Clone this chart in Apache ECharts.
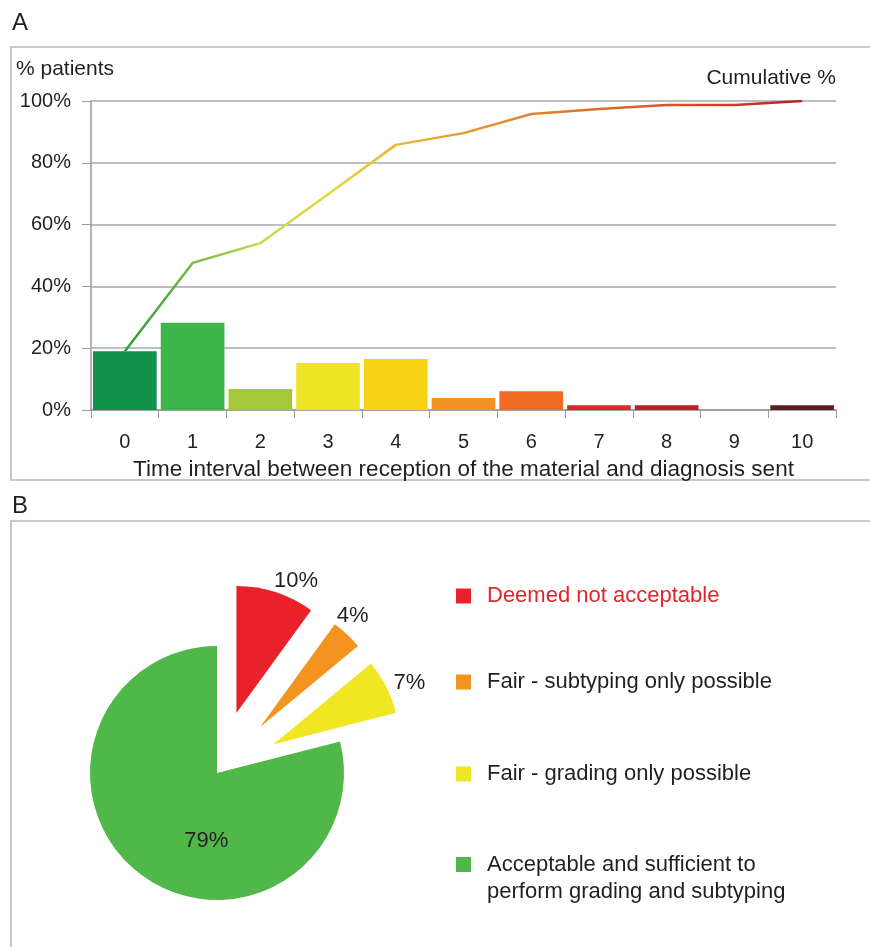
<!DOCTYPE html>
<html>
<head>
<meta charset="utf-8">
<script src="https://cdn.jsdelivr.net/npm/echarts@6/dist/echarts.min.js"></script>
<style>
  html, body { margin: 0; padding: 0; background: #fff; }
  #chart { width: 870px; height: 947px; }
</style>
</head>
<body>
<div id="chart"></div>
<script>
// panel A data
const days = ['0', '1', '2', '3', '4', '5', '6', '7', '8', '9', '10']
const patientPct = [19, 28.2, 6.8, 15.2, 16.5, 3.9, 6.1, 1.5, 1.5, 0, 1.5]
const cumulativePct = [19, 47.6, 54, 69.8, 85.8, 89.6, 95.8, 97.4, 98.7, 98.7, 100]
const yTicks = [0, 20, 40, 60, 80, 100]

// panel B data
const qualityNames = [
  'Deemed not acceptable',
  'Fair - subtyping only possible',
  'Fair - grading only possible',
  'Acceptable and sufficient to\nperform grading and subtyping'
]
const qualityPct = [10, 4, 7, 79]

// styles
const barColors = ['#11924a', '#3db54a', '#a3c93b', '#efe526', '#f5d312', '#f39224', '#ee6a25', '#e0262b', '#b72127', '#999', '#5b1f20']
const pieColors = ['#e8212a', '#f39420', '#f0e624', '#4fb848']
const labelOffsets = [[39, -69], [47, -63], [77, -31], [30, 15]]
const legendTops = [584, 670, 762, 824]
const font = 'Liberation Sans, Arial, sans-serif'
const ink = '#231f20'

const myChart = echarts.init(document.getElementById('chart'))

myChart.setOption({
  animation: false,
  textStyle: { fontFamily: font },
  title: [
    { text: 'A', left: 12, top: 11, padding: 0, textStyle: { fontSize: 24, fontWeight: 'normal', color: ink, fontFamily: font } },
    { text: 'B', left: 12, top: 494, padding: 0, textStyle: { fontSize: 24, fontWeight: 'normal', color: ink, fontFamily: font } },
    { text: '% patients', left: 16, top: 59, padding: 0, textStyle: { fontSize: 21, fontWeight: 'normal', color: ink, fontFamily: font } },
    { text: 'Cumulative %', right: 34, top: 68, padding: 0, textStyle: { fontSize: 21, fontWeight: 'normal', color: ink, fontFamily: font } }
  ],
  graphic: [
    { type: 'rect', shape: { x: 11, y: 47, width: 880, height: 433 }, style: { fill: 'none', stroke: '#c8c8c8', lineWidth: 2 }, z: -1 },
    { type: 'rect', shape: { x: 11, y: 521, width: 880, height: 450 }, style: { fill: 'none', stroke: '#c8c8c8', lineWidth: 2 }, z: -1 }
  ],
  grid: { left: 91, right: 34, top: 101, bottom: 537 },
  xAxis: {
    type: 'category',
    data: days,
    name: 'Time interval between reception of the material and diagnosis sent',
    nameLocation: 'middle',
    nameGap: 48,
    nameTextStyle: { fontSize: 22.5, color: ink },
    axisLine: { lineStyle: { color: '#9a9a9a', width: 1.5 } },
    axisTick: { show: true, length: 8, lineStyle: { color: '#9a9a9a' } },
    axisLabel: { fontSize: 20, color: ink, margin: 22 }
  },
  yAxis: {
    type: 'value',
    min: 0,
    max: 100,
    interval: 20,
    axisLine: { show: true, lineStyle: { color: '#9a9a9a', width: 1.5 } },
    axisTick: { show: true, length: 9, lineStyle: { color: '#9a9a9a' } },
    axisLabel: { fontSize: 20, color: ink, margin: 20, formatter: v => yTicks.includes(v) ? v + '%' : '' },
    splitLine: { lineStyle: { color: '#a8a8a8', width: 1.5 } }
  },
  legend: qualityNames.map((name, i) => ({
    orient: 'vertical',
    left: 456,
    top: legendTops[i],
    padding: 0,
    itemWidth: 15,
    itemHeight: 15,
    icon: 'rect',
    selectedMode: false,
    data: [name],
    formatter: n => (i === 3 ? '\n' + n : n),
    textStyle: {
      fontSize: 22,
      color: i === 0 ? '#e3242b' : ink,
      lineHeight: i === 3 ? 27 : 24,
      padding: [0, 0, 0, 11]
    }
  })),
  series: [
    {
      type: 'bar',
      data: patientPct.map((v, i) => ({ value: v, itemStyle: { color: barColors[i] } })),
      barCategoryGap: '6%',
      z: 2
    },
    {
      type: 'line',
      data: cumulativePct,
      showSymbol: false,
      z: 3,
      lineStyle: {
        width: 2.5,
        color: new echarts.graphic.LinearGradient(0, 0, 1, 0, [
          { offset: 0, color: '#2c9a3c' },
          { offset: 0.1, color: '#6cbb43' },
          { offset: 0.2, color: '#c2d94a' },
          { offset: 0.3, color: '#e6d83c' },
          { offset: 0.4, color: '#e8b838' },
          { offset: 0.5, color: '#e5982f' },
          { offset: 0.65, color: '#df7a2b' },
          { offset: 0.85, color: '#d2492b' },
          { offset: 1, color: '#b81f2a' }
        ])
      }
    },
    {
      type: 'pie',
      center: [217, 773],
      radius: 127,
      startAngle: 90,
      clockwise: true,
      selectedMode: 'multiple',
      selectedOffset: 63,
      emphasis: { disabled: true },
      labelLine: { show: false },
      label: {
        show: true,
        position: 'inside',
        fontSize: 22,
        color: ink,
        formatter: '{c}%'
      },
      labelLayout: p => ({ dx: labelOffsets[p.dataIndex][0], dy: labelOffsets[p.dataIndex][1] }),
      data: qualityPct.map((v, i) => ({
        name: qualityNames[i],
        value: v,
        selected: i < 3,
        itemStyle: { color: pieColors[i] }
      }))
    }
  ]
})
</script>
</body>
</html>
